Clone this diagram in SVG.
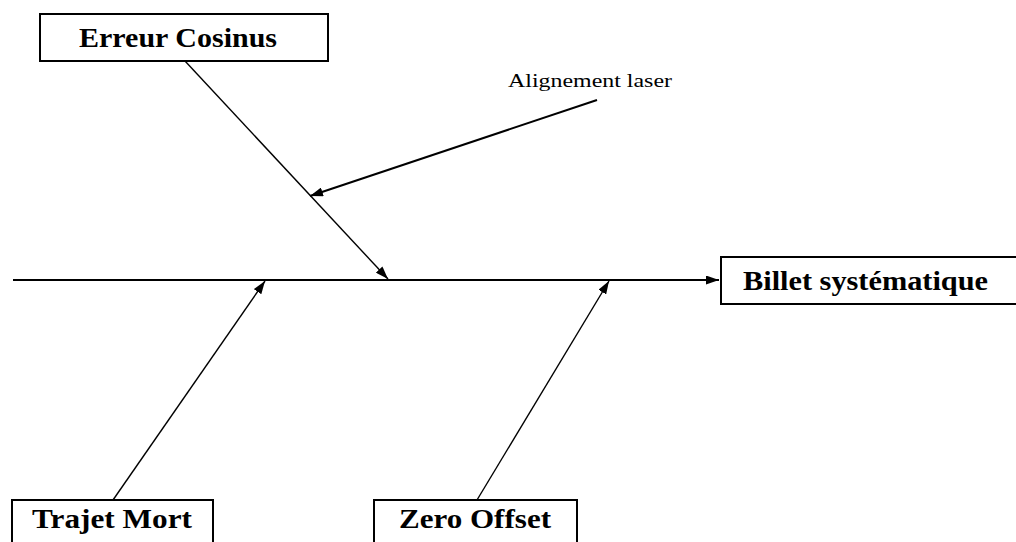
<svg xmlns="http://www.w3.org/2000/svg" width="1016" height="542" viewBox="0 0 1016 542">
<style>
.box{fill:#fff;stroke:#000;stroke-width:2}
.lbl{font-family:"Liberation Serif","Times New Roman",serif;font-weight:bold;font-size:28px;fill:#000}
.note{font-family:"Liberation Serif","Times New Roman",serif;font-size:18px;fill:#000}
.conn{stroke:#000;fill:none}
</style>
<defs>
<marker id="ah" viewBox="0 0 13 9" refX="13" refY="4.5" markerWidth="13" markerHeight="9" markerUnits="userSpaceOnUse" orient="auto">
<path d="M0,0 L13,4.5 L0,9 Z" fill="#000"/>
</marker>
</defs>
<rect width="1016" height="542" fill="#fff"/>
<g id="connectors">
<line class="conn" x1="13" y1="280" x2="719" y2="280" stroke-width="2" marker-end="url(#ah)"/>
<line class="conn" x1="185" y1="61" x2="388" y2="279" stroke-width="1.4" marker-end="url(#ah)"/>
<line class="conn" x1="597" y1="100" x2="310" y2="196" stroke-width="2" marker-end="url(#ah)"/>
<line class="conn" x1="113" y1="500" x2="265" y2="281" stroke-width="1.4" marker-end="url(#ah)"/>
<line class="conn" x1="477" y1="500" x2="609" y2="281" stroke-width="1.4" marker-end="url(#ah)"/>
</g>
<g id="erreur-cosinus">
<rect class="box" x="40" y="14" width="288" height="47"/>
<text class="lbl" x="79" y="47" textLength="198" lengthAdjust="spacingAndGlyphs">Erreur Cosinus</text>
</g>
<g id="alignement-laser">
<text class="note" x="508" y="87" textLength="164" lengthAdjust="spacingAndGlyphs">Alignement laser</text>
</g>
<g id="billet-systematique">
<rect class="box" x="721" y="257" width="310" height="47"/>
<text class="lbl" x="743" y="290" textLength="245" lengthAdjust="spacingAndGlyphs">Billet systématique</text>
</g>
<g id="trajet-mort">
<rect class="box" x="12" y="500" width="201" height="50"/>
<text class="lbl" x="32" y="528" textLength="160" lengthAdjust="spacingAndGlyphs">Trajet Mort</text>
</g>
<g id="zero-offset">
<rect class="box" x="374" y="500" width="203" height="50"/>
<text class="lbl" x="399" y="528" textLength="152" lengthAdjust="spacingAndGlyphs">Zero Offset</text>
</g>
</svg>
